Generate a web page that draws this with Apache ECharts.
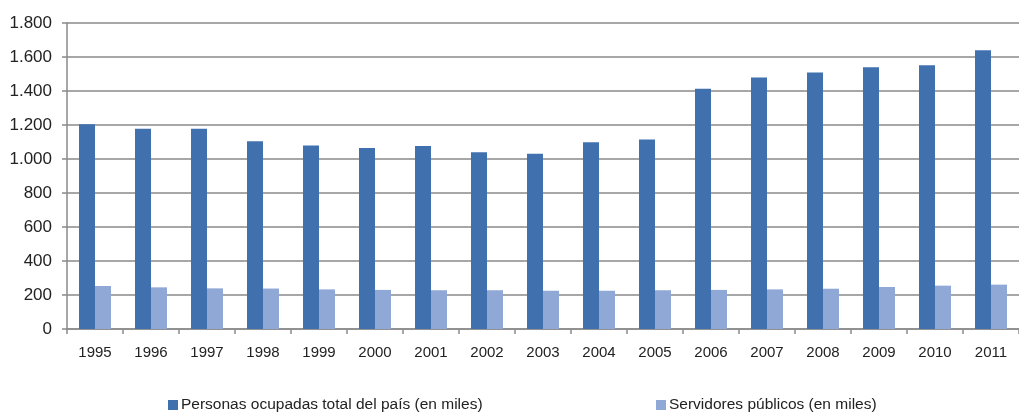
<!DOCTYPE html>
<html>
<head>
<meta charset="utf-8">
<script src="https://cdn.jsdelivr.net/npm/echarts@6/dist/echarts.min.js"></script>
<style>
  html, body { margin: 0; padding: 0; background: #fff; }
  #chart { width: 1019px; height: 412px; }
</style>
</head>
<body>
<div id="chart"></div>
<script>
// years on the x axis
const years = ['1995', '1996', '1997', '1998', '1999', '2000', '2001', '2002', '2003',
  '2004', '2005', '2006', '2007', '2008', '2009', '2010', '2011'];
// Personas ocupadas total del país (en miles)
const ocupados = [1205, 1178, 1178, 1105, 1080, 1065, 1077, 1039, 1031, 1098, 1114,
  1413, 1480, 1509, 1539, 1551, 1639];
// Servidores públicos (en miles)
const servidores = [253, 245, 239, 238, 233, 230, 228, 228, 225, 225, 228,
  230, 233, 237, 247, 255, 261];
const yTicks = [0, 200, 400, 600, 800, 1000, 1200, 1400, 1600, 1800];

const FONT = '"Liberation Sans", Arial, sans-serif';
const DARK = '#4170AF';
const LIGHT = '#8FA8D5';
const GRID_GREY = '#8a8a8a';

const chart = echarts.init(document.getElementById('chart'));

chart.setOption({
  animation: false,
  textStyle: { fontFamily: FONT },
  grid: { left: 67, right: -12, top: 23, bottom: 83 },
  legend: [
    {
      data: ['Personas ocupadas total del país (en miles)'],
      left: 163, top: 392,
      icon: 'rect', itemWidth: 10, itemHeight: 10, itemGap: 4,
      textStyle: { fontFamily: FONT, fontSize: 15.5, color: '#222', padding: [0, 0, 0, -2] }
    },
    {
      data: ['Servidores públicos (en miles)'],
      left: 651, top: 392,
      icon: 'rect', itemWidth: 10, itemHeight: 10, itemGap: 4,
      textStyle: { fontFamily: FONT, fontSize: 15.5, color: '#222', padding: [0, 0, 0, -2] }
    }
  ],
  xAxis: {
    type: 'category',
    data: years,
    axisLine: { lineStyle: { color: GRID_GREY, width: 1.5 } },
    axisTick: { show: true, length: 5, interval: 0, lineStyle: { color: GRID_GREY, width: 1.5 } },
    axisLabel: { color: '#222', fontSize: 15, margin: 16, interval: 0 }
  },
  yAxis: {
    type: 'value',
    min: yTicks[0],
    max: yTicks[yTicks.length - 1],
    interval: yTicks[1] - yTicks[0],
    axisLine: { show: true, lineStyle: { color: GRID_GREY, width: 1.5 } },
    axisTick: { show: true, length: 5, lineStyle: { color: GRID_GREY, width: 1.5 } },
    splitLine: { lineStyle: { color: GRID_GREY, width: 1.5 } },
    axisLabel: {
      color: '#222', fontSize: 17, margin: 15,
      formatter: function (v) {
        return String(v).replace(/\B(?=(\d{3})+(?!\d))/g, '.');
      }
    }
  },
  series: [
    {
      name: 'Personas ocupadas total del país (en miles)',
      type: 'bar',
      data: ocupados,
      barWidth: 16,
      barGap: '0%',
      itemStyle: { color: DARK }
    },
    {
      name: 'Servidores públicos (en miles)',
      type: 'bar',
      data: servidores,
      barWidth: 16,
      itemStyle: { color: LIGHT }
    }
  ]
});
</script>
</body>
</html>
